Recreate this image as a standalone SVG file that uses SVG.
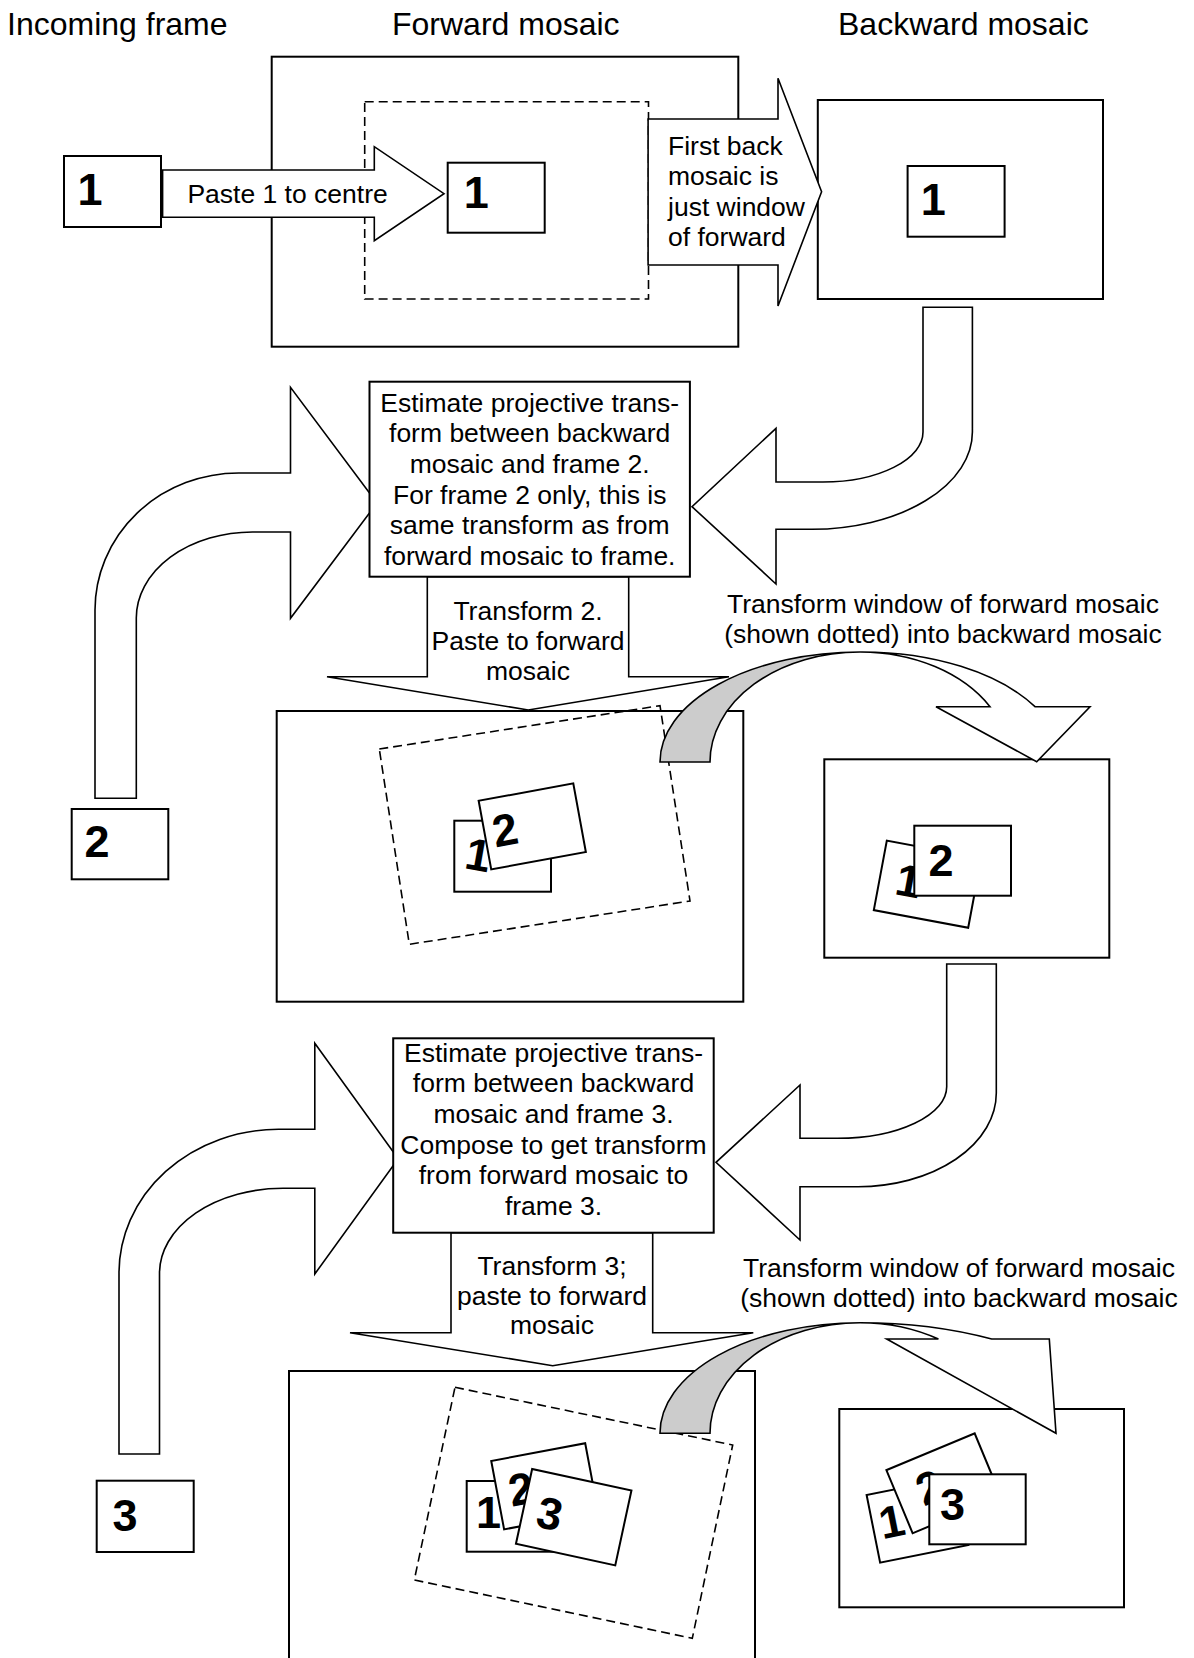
<svg xmlns="http://www.w3.org/2000/svg" width="1194" height="1658" viewBox="0 0 1194 1658">
<style>
.bg{fill:#fff}
.box{fill:#fff;stroke:#000;stroke-width:2}
.dash{fill:none;stroke:#000;stroke-width:1.6;stroke-dasharray:9 5}
.arrow{fill:#fff;stroke:#000;stroke-width:1.6;stroke-linejoin:miter}
.gray{fill:#cccccc;stroke:#000;stroke-width:1.6}
.hdr{font-family:"Liberation Sans",Arial,sans-serif;font-size:32px;fill:#000}
.txt{font-family:"Liberation Sans",Arial,sans-serif;font-size:26.5px;fill:#000}
.mid{text-anchor:middle}
.dig{font-family:"Liberation Sans",Arial,sans-serif;font-size:45px;font-weight:bold;fill:#000}
</style>
<rect class="bg" x="0" y="0" width="1194" height="1658"/>

<g id="headers">
<text class="hdr" x="7" y="35">Incoming frame</text>
<text class="hdr" x="392" y="35">Forward mosaic</text>
<text class="hdr" x="838" y="35">Backward mosaic</text>
</g>

<g id="forward1">
<rect class="box" x="271.7" y="56.7" width="466.6" height="290"/>
<rect class="dash" x="364.7" y="101.7" width="283.8" height="197.3"/>
<rect class="box" x="447.7" y="162.7" width="97" height="70"/>
<text class="dig" x="463.8" y="208.3">1</text>
</g>

<g id="backward1">
<rect class="box" x="817.8" y="100" width="285.2" height="199"/>
<rect class="box" x="907.6" y="166" width="97" height="70.7"/>
<text class="dig" x="920.8" y="215">1</text>
</g>

<g id="frame1">
<rect class="box" x="64" y="156" width="97" height="71"/>
<text class="dig" x="77.5" y="205">1</text>
</g>

<g id="frame2">
<rect class="box" x="71.7" y="809" width="96.6" height="70.3"/>
<text class="dig" x="84.5" y="857.3">2</text>
</g>

<g id="forward2">
<rect class="box" x="276.7" y="711" width="466.6" height="290.7"/>
<polygon class="dash" points="379.3,749 660,705.7 690,901 409.3,944.3"/>
<rect class="box" x="454.3" y="820.7" width="96.7" height="71"/>
<text class="dig" x="463" y="870" transform="rotate(10 475 870)">1</text>
<g transform="translate(532.25,826.4) rotate(-10.4)">
<rect class="box" x="-48.1" y="-34.85" width="96.2" height="69.7"/>
<text class="dig" x="-40" y="14">2</text>
</g>
</g>

<g id="backward2">
<rect class="box" x="824.3" y="759.3" width="285" height="198.4"/>
<g transform="translate(927.5,884.2) rotate(10.6)">
<rect class="box" x="-48" y="-35.35" width="96" height="70.7"/>
<text class="dig" x="-31.7" y="16">1</text>
</g>
<rect class="box" x="914.3" y="825.7" width="96.7" height="70"/>
<text class="dig" x="928.5" y="876">2</text>
</g>

<g id="frame3">
<rect class="box" x="96.7" y="1480.7" width="97" height="71.3"/>
<text class="dig" x="112.5" y="1530.7">3</text>
</g>

<g id="forward3">
<rect class="box" x="289" y="1371" width="466" height="320"/>
<polygon class="dash" points="455,1387.3 732.7,1445 692.3,1638.3 414.3,1580"/>
<rect class="box" x="466.7" y="1481" width="96.7" height="70.7"/>
<text class="dig" x="476" y="1528.3">1</text>
<g transform="translate(544.65,1486.3) rotate(-10.66)">
<rect class="box" x="-47.8" y="-34.8" width="95.6" height="69.6"/>
<text class="dig" x="-36" y="14">2</text>
</g>
<g transform="translate(573.7,1517.15) rotate(12.2)">
<rect class="box" x="-50.8" y="-38.3" width="101.6" height="76.6"/>
<text class="dig" x="-36.5" y="17.3">3</text>
</g>
</g>

<g id="backward3">
<rect class="box" x="839.3" y="1409" width="284.7" height="198.3"/>
<g transform="translate(917.5,1520) rotate(-11.3)">
<rect class="box" x="-45" y="-34.5" width="90" height="69"/>
<text class="dig" x="-38" y="12">1</text>
</g>
<g transform="translate(943.65,1483.3) rotate(-22.6)">
<rect class="box" x="-47.8" y="-34.15" width="95.6" height="68.3"/>
<text class="dig" x="-27" y="14">2</text>
</g>
<rect class="box" x="929.3" y="1474.3" width="96.4" height="70"/>
<text class="dig" x="940" y="1520">3</text>
</g>

<g id="connectors">
<path class="arrow" d="M162.6,170 L374.3,170 L374.3,146.7 L444,193.7 L374.3,240.7 L374.3,217.3 L162.6,217.3 Z"/>
<path class="arrow" d="M648.1,119 L778,119 L778,78.3 L821.6,191.7 L778,306 L778,265 L648.1,265 Z"/>
<path class="arrow" d="M923,307.3 L923,432 A100,50 0 0 1 823,482 L776,482 L776,428.3 L692,506.7 L776,584 L776,529.3 L812,529.3 A160.4,97.3 0 0 0 972.4,432 L972.4,307.3 Z"/>
<path class="arrow" d="M95,798.3 L95,610 A143.7,137 0 0 1 238.7,473 L290.5,473 L290.5,387.3 L377,503 L290.5,618.3 L290.5,532 L252.5,532 A116.2,86 0 0 0 136.3,618 L136.3,798.3 Z"/>
<path class="arrow" d="M427.3,576.7 L427.3,676.7 L327,676.7 L528.3,710 L729,676.7 L628.7,676.7 L628.7,576.7 Z"/>
<path class="gray" d="M660,762 A200,110 0 0 1 860,652 A150,110 0 0 0 710,762 Z"/>
<path class="arrow" d="M860,652 A200,110 0 0 1 1035,706.7 L1090,706.7 L1036.7,761.7 L936,706.7 L990,706.7 A150,110 0 0 0 860,652 Z"/>
<path class="arrow" d="M946.7,964 L946.7,1086.7 A109.3,51.6 0 0 1 837.4,1138.3 L800,1138.3 L800,1085 L716,1162.3 L800,1240 L800,1186.7 L858,1186.7 A138.3,93.7 0 0 0 996.3,1093 L996.3,964 Z"/>
<path class="arrow" d="M119,1454 L119,1273 A159.5,143.7 0 0 1 278.5,1129.3 L314.8,1129.3 L314.8,1043.3 L398.2,1158.7 L314.8,1274 L314.8,1188.3 L283,1188.3 A123.5,85 0 0 0 159.5,1273.3 L159.5,1454 Z"/>
<path class="arrow" d="M451,1232.7 L451,1332.7 L350,1332.7 L552.7,1365.7 L753.3,1332.7 L652.7,1332.7 L652.7,1232.7 Z"/>
<path class="gray" d="M660,1433.3 A200,110.6 0 0 1 860,1322.7 A150,110.6 0 0 0 710,1433.3 Z"/>
<path class="arrow" d="M860,1322.7 A252,110.6 0 0 1 991.7,1339 L1049.3,1339 L1056,1433.3 L886.7,1339 L938.4,1339 A150,110.6 0 0 0 860,1322.7 Z"/>
<text class="txt" x="187.4" y="202.7">Paste 1 to centre</text>
<text class="txt"><tspan x="668" y="155">First back</tspan><tspan x="668" y="185">mosaic is</tspan><tspan x="668" y="216">just window</tspan><tspan x="668" y="246">of forward</tspan></text>
<text class="txt mid"><tspan x="528" y="619.5">Transform 2.</tspan><tspan x="528" y="649.5">Paste to forward</tspan><tspan x="528" y="679.5">mosaic</tspan></text>
<text class="txt mid"><tspan x="943" y="613.3">Transform window of forward mosaic</tspan><tspan x="943" y="643.3">(shown dotted) into backward mosaic</tspan></text>
<text class="txt mid"><tspan x="552" y="1275">Transform 3;</tspan><tspan x="552" y="1304.5">paste to forward</tspan><tspan x="552" y="1334">mosaic</tspan></text>
<text class="txt mid"><tspan x="959" y="1276.5">Transform window of forward mosaic</tspan><tspan x="959" y="1306.7">(shown dotted) into backward mosaic</tspan></text>
</g>

<g id="estimate1">
<rect class="box" x="369.5" y="381.7" width="320.4" height="195"/>
<text class="txt mid"><tspan x="529.7" y="411.7">Estimate projective trans-</tspan><tspan x="529.7" y="442.3">form between backward</tspan><tspan x="529.7" y="472.9">mosaic and frame 2.</tspan><tspan x="529.7" y="503.5">For frame 2 only, this is</tspan><tspan x="529.7" y="534.1">same transform as from</tspan><tspan x="529.7" y="564.7">forward mosaic to frame.</tspan></text>
</g>

<g id="estimate2">
<rect class="box" x="393.2" y="1038.3" width="320.5" height="194.4"/>
<text class="txt mid"><tspan x="553.5" y="1061.7">Estimate projective trans-</tspan><tspan x="553.5" y="1092.3">form between backward</tspan><tspan x="553.5" y="1122.9">mosaic and frame 3.</tspan><tspan x="553.5" y="1153.5">Compose to get transform</tspan><tspan x="553.5" y="1184.1">from forward mosaic to</tspan><tspan x="553.5" y="1214.7">frame 3.</tspan></text>
</g>
</svg>
